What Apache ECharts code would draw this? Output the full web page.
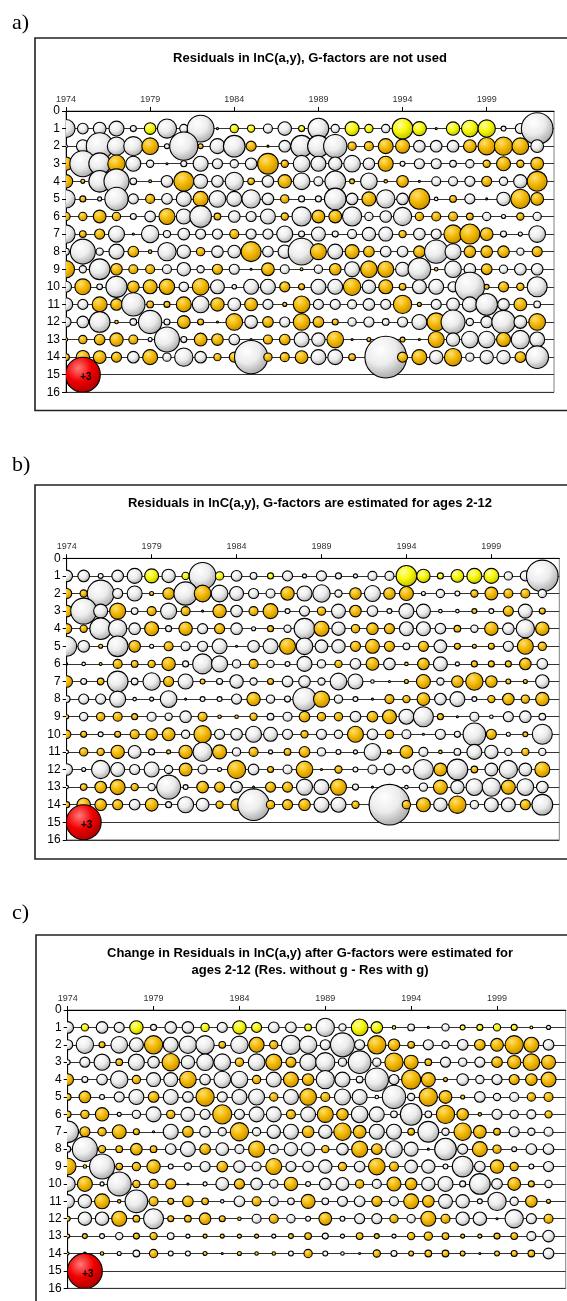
<!DOCTYPE html>
<html style="height: 100%">
<head>
<meta http-equiv="Content-Type" content="text/html; charset=UTF-8">
</head>
<body style="height: 100%; margin: 0; background: #fff">
<div id="container" style="width: 567px; height: 1301px"></div>
<script src="https://cdn.jsdelivr.net/npm/echarts@6/dist/echarts.min.js"></script>
<script type="text/javascript">
// years on the x axis, ages on the y axis
var years = [1974, 1975, 1976, 1977, 1978, 1979, 1980, 1981, 1982, 1983, 1984, 1985, 1986, 1987, 1988,
	1989, 1990, 1991, 1992, 1993, 1994, 1995, 1996, 1997, 1998, 1999, 2000, 2001, 2002];
var ages = [1, 2, 3, 4, 5, 6, 7, 8, 9, 10, 11, 12, 13, 14];
var yearTicks = [1974, 1979, 1984, 1989, 1994, 1999];

// a) residuals, G-factors not used (one row per age)
var resA = [
	[-0.8, -0.28, -0.4, -0.55, -0.09, 0.33, -0.9, -0.17, -1.75, -0.01, 0.17, 0.13, -0.2, -0.45, 0.09, -1.05, -0.17, 0.48, 0.17, -0.17, 1.05, 0.48, 0.01, 0.44, 0.68, 0.74, -0.06, -0.25, -2.45],
	[-0.02, -0.4, -1.75, -0.82, -0.9, 0.68, -0.06, -1.95, 0.06, -0.55, -1.15, 0.25, 0.01, -0.33, -1.15, -1.15, -1.33, 0.17, 0.2, 0.55, 0.48, -0.33, -0.33, -0.33, 0.4, 0.74, 0.82, 0.68, -0.4],
	[0.44, -1.65, -1.15, 0.74, -0.55, -0.13, -0.01, -0.09, -0.55, -0.25, -0.17, -0.33, 1.05, 0.13, -0.68, -0.55, -0.44, -0.68, -0.33, 0.55, -0.06, -0.25, -0.25, -0.11, -0.17, 0.13, 0.48, 0.13, 0.4],
	[0.44, 0.04, -1.15, -1.53, -0.11, 0.02, -0.33, 0.98, -0.48, -0.33, -0.82, 0.11, -0.33, 0.44, -0.68, -0.2, -1.05, 0.06, -0.68, 0.03, 0.33, 0.01, -0.2, -0.2, -0.25, 0.25, -0.17, -0.44, 0.98],
	[-0.82, 0.09, -0.04, -1.33, -0.25, 0.2, -0.28, -0.55, 0.55, -0.68, -0.55, -0.82, -0.33, 0.17, -0.09, -0.09, -1.15, -0.33, 0.48, -0.82, -0.33, 1.05, -0.03, 0.11, -0.25, 0.01, -0.44, 0.9, 0.4],
	[0.17, 0.17, 0.4, 0.17, -0.09, -0.28, 0.63, -0.55, -1.15, 0.11, -0.33, -0.25, -0.55, 0.13, -0.9, 0.4, 0.4, -0.9, -0.17, -0.33, -0.82, 0.17, 0.2, 0.2, 0.11, -0.17, -0.04, 0.13, -0.17],
	[-0.82, 0.11, 0.25, -0.63, -0.01, -0.74, -0.13, -0.33, -0.25, -0.25, 0.2, -0.25, -0.25, -0.63, -0.09, -0.48, -0.09, -0.2, -0.44, -0.48, 0.13, -0.33, -0.25, 0.82, 0.98, 0.4, -0.09, -0.04, -0.68],
	[-0.11, -1.53, -0.13, -0.55, 0.28, 0.03, -0.82, -0.44, 0.17, -0.33, -0.4, 0.98, -0.28, -0.44, -1.75, 0.63, -0.55, 0.48, 0.28, -0.28, -0.28, 0.33, -1.33, -0.63, 0.33, 0.33, 0.33, -0.13, 0.25],
	[0.72, -0.13, -1.05, 0.33, 0.2, 0.2, -0.2, -0.44, -0.13, 0.25, -0.25, 0.01, 0.4, -0.2, 0.02, -0.17, 0.33, -0.55, 0.68, 0.63, -0.48, -1.25, 0.03, -0.68, -0.33, 0.28, -0.17, -0.33, -0.33],
	[-0.3, 0.62, -0.08, -1.1, 0.33, 0.48, 0.58, -0.22, 0.68, -0.48, -0.05, -0.55, -0.55, 0.25, 0.09, -0.55, -0.55, 0.74, -0.44, 0.48, 0.11, -0.48, -0.55, -0.25, -2.1, 0.06, 0.25, 0.13, -0.98],
	[-0.44, -0.25, 0.55, 0.33, -1.33, 0.11, 0.09, 0.55, -0.68, 0.44, -0.4, 0.4, -0.25, 0.04, 0.68, -0.25, -0.25, -0.2, -0.33, -0.25, 0.82, 0.04, -0.25, -0.4, -0.55, -1.15, -0.33, 0.4, -0.11],
	[-0.25, -0.33, -1.05, 0.03, -0.11, -1.33, -0.09, 0.4, 0.09, 0.01, 0.68, -0.4, 0.28, -0.25, 0.68, 0.28, 0.09, -0.17, -0.25, -0.11, -0.25, -0.55, 0.82, -1.4, -0.13, -0.33, -1.33, -0.4, 0.68],
	[0.03, 0.17, 0.28, 0.44, 0.2, -0.04, -1.53, -0.09, 0.4, 0.33, -0.28, 0.01, 0.2, 0.28, -0.55, -0.44, 0.68, 0.01, 0.04, -0.05, 0.06, 0.01, 0.63, -0.44, -0.68, -0.68, 0.48, -0.82, -0.55],
	[0.11, 0.44, 0.4, 0.25, -0.33, 0.55, -0.17, -0.82, -0.33, 0.13, 0.25, -2.7, 0.17, 0.2, 0.4, -0.55, -0.55, 0.11, -0.1, -4.25, 0.25, 0.55, -0.44, 0.74, -0.17, -0.44, -0.44, 0.28, -1.25]
];

// b) residuals, G-factors estimated for ages 2-12
var resB = [
	[-0.33, -0.33, -0.06, -0.33, -0.55, 0.48, -0.44, 0.13, -1.75, 0.17, -0.28, -0.11, 0.09, -0.25, -0.04, -0.25, -0.09, -0.04, -0.2, -0.2, 1.05, 0.44, 0.09, 0.4, 0.55, 0.55, -0.17, -0.25, -2.45],
	[0.25, 0.13, -1.75, -0.25, -0.55, 0.04, 0.33, -1.33, 0.68, -0.68, -0.48, -0.25, -0.2, 0.44, -0.55, -0.74, -0.13, 0.33, -0.63, 0.33, 0.48, -0.04, -0.17, -0.06, 0.13, 0.4, 0.2, 0.2, -0.17],
	[0.33, -1.65, -0.48, 0.63, -0.11, 0.2, -0.63, 0.2, 0.01, 0.44, -0.33, 0.2, 0.55, -0.06, -0.25, 0.17, -0.48, 0.33, -0.28, -0.06, -0.55, -0.48, -0.03, -0.03, 0.06, -0.06, 0.25, -0.48, 0.09],
	[0.25, 0.13, -1.15, -0.82, -0.33, 0.48, -0.09, 0.44, -0.25, 0.25, -0.33, -0.04, 0.09, -0.13, -1.05, 0.55, -0.44, 0.17, 0.33, 0.25, -0.48, -0.48, -0.28, 0.11, -0.13, 0.44, -0.33, -0.82, 0.44],
	[-0.98, -0.33, 0.04, -1.05, 0.33, -0.04, 0.2, -0.2, -0.25, -0.55, 0.01, -0.33, -0.55, 0.63, -0.68, -0.4, -0.44, 0.25, 0.48, 0.25, -0.11, 0.25, -0.4, 0.09, 0.04, 0.09, -0.25, 0.63, 0.17],
	[0.01, -0.03, 0.02, 0.2, 0.11, 0.13, 0.44, -0.09, -0.98, -0.63, -0.17, 0.2, -0.13, -0.06, -0.55, -0.17, 0.13, -0.28, 0.4, -0.33, 0.03, 0.33, -0.48, -0.04, 0.09, 0.09, 0.09, 0.33, -0.28],
	[0.33, -0.09, 0.11, -1.05, -0.11, -0.74, 0.25, -0.55, 0.06, -0.09, -0.44, -0.13, 0.09, -0.28, -0.33, -0.13, -0.68, -0.55, -0.03, -0.01, 0.04, 0.48, -0.13, 0.33, 0.74, 0.33, 0.06, 0.04, -0.44],
	[-0.11, -0.25, -0.25, -0.63, -0.03, -0.04, -0.68, -0.01, -0.06, -0.06, -0.25, 0.44, -0.17, -0.09, -1.33, 0.63, -0.17, -0.06, 0.01, 0.2, 0.13, 0.4, -0.33, -0.55, -0.06, 0.13, 0.33, 0.17, 0.44],
	[0.04, -0.17, 0.17, 0.2, 0.09, -0.2, -0.13, -0.33, 0.2, 0.03, 0.03, 0.13, -0.11, -0.2, 0.28, 0.17, 0.17, -0.28, 0.28, 0.48, -0.55, -0.98, 0.09, 0.01, -0.2, -0.03, -0.25, -0.33, -0.11],
	[0.17, 0.09, -0.06, 0.09, 0.2, 0.33, 0.4, -0.17, 0.74, -0.25, -0.33, -0.63, -0.48, -0.25, 0.13, -0.25, -0.17, 0.63, -0.28, 0.17, -0.2, -0.01, -0.25, -0.09, -1.25, 0.25, -0.04, 0.06, -0.98],
	[-0.03, 0.17, 0.13, 0.44, -0.4, -0.09, 0.04, 0.44, -0.9, 0.48, -0.17, 0.2, -0.04, 0.11, 0.28, -0.17, -0.06, -0.04, -0.68, 0.04, 0.4, -0.2, 0.03, -0.11, -0.55, -0.44, -0.13, 0.13, -0.13],
	[-0.33, -0.04, -0.82, -0.48, -0.25, -0.55, -0.17, 0.4, -0.2, -0.04, 0.82, -0.28, 0.09, -0.2, 0.68, 0.01, 0.13, -0.06, -0.2, -0.28, -0.13, -0.98, 0.4, -1.05, 0.11, -0.4, -0.82, -0.4, 0.55],
	[-0.03, 0.11, 0.33, 0.55, 0.13, -0.13, -1.4, -0.06, 0.33, 0.25, -0.33, 0.01, 0.25, 0.25, -0.63, -0.55, 0.63, -0.09, 0.01, -0.05, -0.03, -0.17, 0.48, -0.44, -0.68, -0.82, 0.48, -0.68, -0.33],
	[0.09, 0.44, 0.33, 0.25, -0.28, 0.4, -0.09, -0.63, -0.4, 0.13, 0.33, -2.45, 0.17, 0.25, 0.33, -0.55, -0.55, 0.13, -0.1, -4.05, 0.17, 0.48, -0.44, 0.74, -0.17, -0.48, -0.48, 0.25, -1.05]
];

// c) change in residuals (res without g - res with g)
var resC = [
	[-0.33, 0.13, -0.33, -0.25, 0.44, -0.09, -0.33, -0.33, 0.17, -0.25, 0.44, 0.25, -0.28, -0.28, 0.11, -0.82, -0.13, 0.68, 0.33, 0.03, -0.11, -0.01, -0.13, 0.06, 0.09, 0.13, 0.09, 0.02, -0.04],
	[-0.25, -0.74, 0.09, -0.68, -0.48, 0.82, -0.55, -0.74, -0.82, 0.11, -0.74, 0.55, 0.17, -0.9, -0.74, -0.25, -1.4, -0.25, 0.82, 0.33, 0.11, -0.25, -0.13, -0.28, 0.28, 0.4, 0.82, 0.55, -0.28],
	[-0.06, -0.25, -0.63, 0.11, -0.63, -0.33, 0.74, -0.44, -0.68, -0.68, 0.17, -0.68, 0.63, 0.25, -0.68, -0.9, -0.17, -1.25, -0.17, 0.82, 0.48, 0.11, -0.25, -0.17, -0.25, 0.28, 0.44, 0.68, 0.48],
	[0.33, -0.09, -0.28, -0.74, 0.17, -0.48, -0.48, 0.68, -0.28, -0.68, -0.68, 0.17, -0.55, 0.55, 0.33, -0.82, -0.55, -0.11, -1.33, -0.25, 0.9, 0.48, 0.04, -0.33, -0.17, -0.25, 0.25, 0.33, 0.55],
	[0.11, 0.33, -0.06, -0.25, -0.55, 0.28, -0.55, -0.28, 0.82, -0.25, -0.55, -0.63, 0.17, -0.55, 0.68, 0.2, -0.63, -0.55, -0.03, -1.33, -0.13, 0.82, 0.4, 0.04, -0.28, -0.13, -0.2, 0.17, 0.2],
	[0.11, 0.17, 0.44, -0.04, -0.17, -0.55, 0.17, -0.48, -0.25, 0.9, -0.25, -0.55, -0.55, 0.2, -0.55, 0.63, 0.33, -0.68, -0.55, -0.11, -1.15, -0.11, 0.82, 0.33, 0.03, -0.25, -0.17, -0.2, 0.13],
	[-1.15, 0.25, 0.17, 0.48, 0.09, 0.01, -0.55, 0.28, -0.28, -0.17, 0.82, -0.17, -0.44, -0.55, 0.33, -0.44, 0.74, 0.4, -0.55, -0.55, 0.11, -1.05, -0.13, 0.74, 0.4, 0.11, -0.25, -0.13, -0.2],
	[-0.09, -1.53, 0.13, 0.11, 0.33, 0.11, -0.28, -0.55, 0.28, -0.4, -0.2, 0.63, -0.2, -0.44, -0.44, 0.13, -0.33, 0.63, 0.28, -0.68, -0.48, -0.01, -1.15, -0.25, 0.55, 0.17, -0.06, -0.28, -0.28],
	[0.68, 0.03, -1.53, 0.11, 0.17, 0.44, -0.06, -0.13, -0.25, 0.28, -0.33, -0.2, 0.63, -0.25, -0.28, -0.44, 0.17, -0.28, 0.68, 0.2, -0.4, -0.44, -0.06, -1.05, -0.28, 0.44, 0.17, -0.06, -0.25],
	[-0.55, 0.55, -0.04, -1.4, 0.13, 0.2, 0.25, 0.01, -0.04, -0.4, 0.25, -0.33, -0.17, 0.44, -0.06, -0.33, -0.4, 0.17, -0.2, 0.48, 0.33, -0.44, -0.55, -0.09, -1.05, -0.28, 0.4, 0.09, -0.13],
	[-0.44, -0.44, 0.55, 0.03, -1.25, 0.2, 0.09, 0.28, 0.11, -0.03, -0.28, 0.2, -0.2, -0.11, 0.48, -0.11, -0.25, -0.28, 0.25, -0.2, 0.55, 0.33, -0.48, -0.44, -0.06, -0.82, -0.17, 0.33, 0.04],
	[0.06, -0.44, -0.44, 0.55, 0.11, -0.98, 0.09, 0.11, 0.33, 0.09, 0.03, -0.2, 0.2, -0.17, -0.06, 0.4, -0.06, -0.25, -0.25, 0.17, -0.17, 0.55, 0.2, -0.44, -0.44, 0.01, -0.82, -0.25, 0.2],
	[0.04, 0.06, -0.06, -0.13, 0.09, 0.13, -0.11, -0.04, 0.04, 0.04, 0.04, 0.04, -0.04, 0.06, 0.11, -0.09, -0.04, 0.11, 0.06, -0.04, 0.13, 0.17, 0.11, 0.04, 0.04, 0.09, 0.11, -0.2, -0.33],
	[0.02, 0.02, 0.03, -0.04, -0.11, 0.17, -0.06, -0.06, 0.04, 0.01, 0.04, 0.03, 0.03, -0.06, 0.17, -0.06, -0.03, 0.01, 0.13, -0.09, 0.06, 0.11, 0.11, 0.06, 0.01, 0.06, 0.09, 0.11, -0.28]
];

// size reference bubble (year, age, value)
var refBubble = [1975, 15, 3];

var titles = [
	'Residuals in lnC(a,y), G-factors are not used',
	'Residuals in lnC(a,y), G-factors are estimated for ages 2-12',
	'Change in Residuals in lnC(a,y) after G-factors were estimated for\nages 2-12 (Res. without g - Res with g)'
];
var panelLetters = ['a)', 'b)', 'c)'];

var FONT = '"Liberation Sans", Arial, sans-serif';
var K = 10.1; // px radius per sqrt(unit)

var negFill = new echarts.graphic.RadialGradient(0.38, 0.32, 0.72, [
	{offset: 0, color: '#ffffff'}, {offset: 0.5, color: '#ececec'}, {offset: 1, color: '#a4a4a4'}]);
var posFill = new echarts.graphic.RadialGradient(0.38, 0.32, 0.72, [
	{offset: 0, color: '#ffe070'}, {offset: 0.5, color: '#f2b600'}, {offset: 1, color: '#bf8a00'}]);
var age1Fill = new echarts.graphic.RadialGradient(0.38, 0.32, 0.72, [
	{offset: 0, color: '#ffffa0'}, {offset: 0.5, color: '#f6f600'}, {offset: 1, color: '#b8b800'}]);
var refFill = new echarts.graphic.RadialGradient(0.38, 0.32, 0.72, [
	{offset: 0, color: '#ff7a7a'}, {offset: 0.5, color: '#f20000'}, {offset: 1, color: '#a80000'}]);

function buildData(res) {
	var out = [];
	for (var r = 0; r < ages.length; r++) {
		for (var c = 0; c < years.length; c++) {
			out.push([years[c], ages[r], res[r][c]]);
		}
	}
	return out;
}

function bubbleItem(params, api) {
	var p = api.coord([api.value(0), api.value(1)]);
	var v = api.value(2);
	var fill = v < 0 ? negFill : (api.value(1) === 1 ? age1Fill : posFill);
	return {
		type: 'circle',
		shape: {cx: p[0], cy: p[1], r: Math.max(K * Math.sqrt(Math.abs(v)), 1)},
		style: {fill: fill, stroke: '#000', lineWidth: 1.1}
	};
}

function refItem(params, api) {
	var p = api.coord([api.value(0), api.value(1)]);
	var v = api.value(2);
	return {
		type: 'group',
		children: [{
			type: 'circle',
			shape: {cx: p[0], cy: p[1], r: K * Math.sqrt(v)},
			style: {fill: refFill, stroke: '#000', lineWidth: 1.1}
		}, {
			type: 'text',
			x: p[0] + 3, y: p[1] + 3,
			style: {text: '+' + v, fill: '#000', font: 'bold 10px ' + FONT, align: 'center', verticalAlign: 'middle'}
		}]
	};
}

var grids = [
	{left: 66, top: 111, width: 488, height: 281.3},
	{left: 66.7, top: 558.3, width: 492.6, height: 281.6},
	{left: 67.7, top: 1010, width: 498, height: 278.3}
];
var titleTops = [58, 503.5, 962];
var letterTops = [23, 465, 913];
var frames = [
	{x: 35, y: 38, height: 372.5},
	{x: 35, y: 485, height: 374},
	{x: 36, y: 935, height: 420}
];
var allRes = [resA, resB, resC];

var option = {
	animation: false,
	backgroundColor: '#fff',
	title: [],
	grid: [],
	xAxis: [],
	yAxis: [],
	series: [],
	graphic: []
};

for (var i = 0; i < 3; i++) {
	option.grid.push({
		left: grids[i].left, top: grids[i].top, width: grids[i].width, height: grids[i].height,
		show: true, borderColor: '#808080', borderWidth: 1, backgroundColor: 'transparent'
	});
	option.title.push({
		text: titles[i],
		left: 310, top: titleTops[i], padding: 0,
		textAlign: 'center', textVerticalAlign: 'middle',
		textStyle: {fontFamily: FONT, fontSize: 13, fontWeight: 'bold', color: '#000', lineHeight: 17.7}
	});
	option.xAxis.push({
		gridIndex: i, type: 'value', position: 'top', min: 1974, max: 2003,
		axisLine: {show: true, onZero: false, lineStyle: {color: '#000', width: 1}},
		axisTick: {show: true, length: 4, customValues: yearTicks, lineStyle: {color: '#000'}},
		axisLabel: {
			customValues: yearTicks, fontFamily: FONT, fontSize: 9, color: '#333', margin: 7,
			formatter: function (v) { return String(v); }
		},
		splitLine: {show: false}
	});
	option.yAxis.push({
		gridIndex: i, type: 'value', inverse: true, min: 0, max: 16, interval: 1,
		axisLine: {show: true, onZero: false, lineStyle: {color: '#000', width: 1}},
		axisTick: {show: true, length: 4, lineStyle: {color: '#000'}},
		axisLabel: {fontFamily: FONT, fontSize: 12, color: '#000', margin: 6},
		splitLine: {show: true, lineStyle: {color: '#333', width: 1}}
	});
	option.series.push({
		type: 'custom', xAxisIndex: i, yAxisIndex: i, clip: true, silent: true,
		encode: {x: 0, y: 1},
		renderItem: bubbleItem,
		data: buildData(allRes[i])
	});
	option.series.push({
		type: 'custom', xAxisIndex: i, yAxisIndex: i, clip: true, silent: true,
		encode: {x: 0, y: 1},
		renderItem: refItem,
		data: [refBubble]
	});
	option.graphic.push({
		type: 'rect', silent: true, z: 100,
		shape: {x: frames[i].x, y: frames[i].y, width: 620, height: frames[i].height},
		style: {fill: 'none', stroke: '#222', lineWidth: 1.6}
	});
	option.graphic.push({
		type: 'text', silent: true,
		x: 12, y: letterTops[i],
		style: {text: panelLetters[i], font: '22px "Liberation Serif", "Times New Roman", serif', fill: '#000', verticalAlign: 'middle'}
	});
}

var dom = document.getElementById("container");
var myChart = echarts.init(dom);
myChart.setOption(option, true);
</script>
</body>
</html>
